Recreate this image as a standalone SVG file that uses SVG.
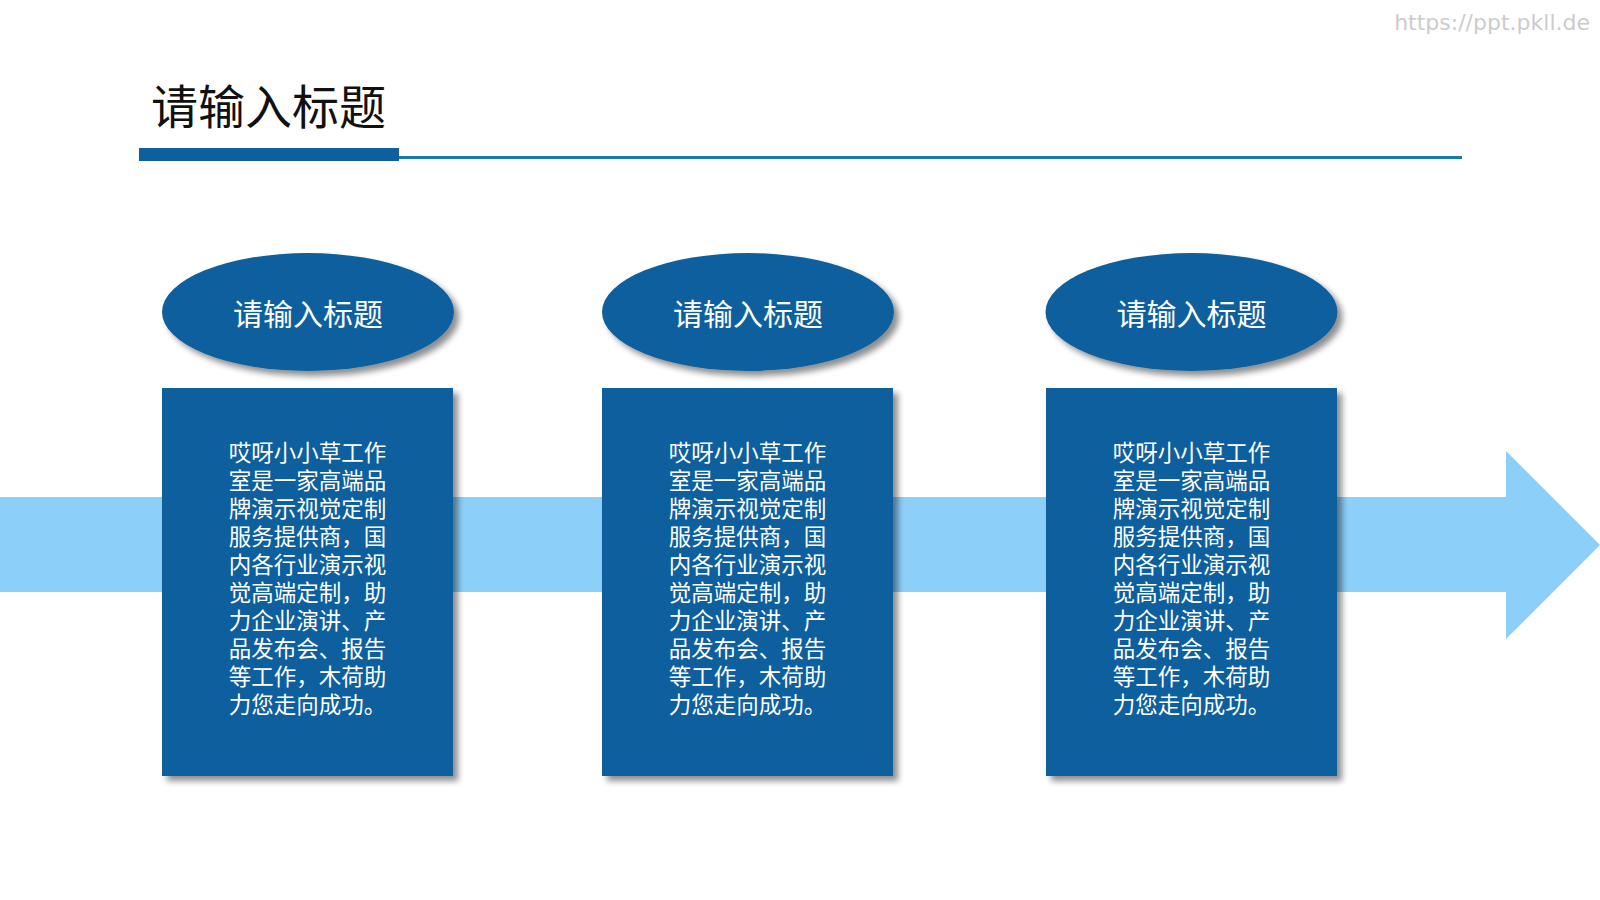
<svg xmlns="http://www.w3.org/2000/svg" width="1600" height="900" viewBox="0 0 1600 900">
<defs>
<filter id="sh" x="-10%" y="-10%" width="125%" height="125%">
<feGaussianBlur in="SourceAlpha" stdDeviation="3"/>
<feOffset dx="5" dy="5" result="b"/>
<feComponentTransfer><feFuncA type="linear" slope="0.45"/></feComponentTransfer>
<feMerge><feMergeNode/><feMergeNode in="SourceGraphic"/></feMerge>
</filter>
<style>
.dk{fill:#0b609d}
.t{font-family:"Noto Sans CJK SC","Noto Sans",sans-serif;fill:#ffffff;text-anchor:middle}
.h{font-size:30px}
.b{font-size:22.5px}
</style>
</defs>
<rect width="1600" height="900" fill="#ffffff"/>
<text x="1590" y="30" font-family="'DejaVu Sans','Liberation Sans',sans-serif" font-size="22" fill="#cccccc" text-anchor="end">https://ppt.pkll.de</text>
<g id="title">
<text x="151" y="124" font-family="'Noto Sans CJK SC',sans-serif" font-size="47" fill="#111111">请输入标题</text>
<rect x="139" y="148" width="260" height="13" class="dk"/>
<rect x="399" y="156" width="1063" height="3" fill="#1878ab"/>
</g>
<g id="connectors">
<polygon points="0,497 1506,497 1506,451 1600,545 1506,639 1506,592 0,592" fill="#8ccff9"/>
</g>
<g id="node1">
<ellipse cx="308" cy="312" rx="146" ry="59" class="dk" filter="url(#sh)"/>
<text x="308" y="325" class="t h">请输入标题</text>
<rect x="162" y="388" width="291" height="388" class="dk" filter="url(#sh)"/>
<text class="t b"><tspan x="307.5" y="461">哎呀小小草工作</tspan><tspan x="307.5" y="489">室是一家高端品</tspan><tspan x="307.5" y="517">牌演示视觉定制</tspan><tspan x="307.5" y="545">服务提供商，国</tspan><tspan x="307.5" y="573">内各行业演示视</tspan><tspan x="307.5" y="601">觉高端定制，助</tspan><tspan x="307.5" y="629">力企业演讲、产</tspan><tspan x="307.5" y="657">品发布会、报告</tspan><tspan x="307.5" y="685">等工作，木荷助</tspan><tspan x="307.5" y="713">力您走向成功。</tspan></text>
</g>
<g id="node2">
<ellipse cx="748" cy="312" rx="146" ry="59" class="dk" filter="url(#sh)"/>
<text x="748" y="325" class="t h">请输入标题</text>
<rect x="602" y="388" width="291" height="388" class="dk" filter="url(#sh)"/>
<text class="t b"><tspan x="747.5" y="461">哎呀小小草工作</tspan><tspan x="747.5" y="489">室是一家高端品</tspan><tspan x="747.5" y="517">牌演示视觉定制</tspan><tspan x="747.5" y="545">服务提供商，国</tspan><tspan x="747.5" y="573">内各行业演示视</tspan><tspan x="747.5" y="601">觉高端定制，助</tspan><tspan x="747.5" y="629">力企业演讲、产</tspan><tspan x="747.5" y="657">品发布会、报告</tspan><tspan x="747.5" y="685">等工作，木荷助</tspan><tspan x="747.5" y="713">力您走向成功。</tspan></text>
</g>
<g id="node3">
<ellipse cx="1191.5" cy="312" rx="146" ry="59" class="dk" filter="url(#sh)"/>
<text x="1191.5" y="325" class="t h">请输入标题</text>
<rect x="1046" y="388" width="291" height="388" class="dk" filter="url(#sh)"/>
<text class="t b"><tspan x="1191.5" y="461">哎呀小小草工作</tspan><tspan x="1191.5" y="489">室是一家高端品</tspan><tspan x="1191.5" y="517">牌演示视觉定制</tspan><tspan x="1191.5" y="545">服务提供商，国</tspan><tspan x="1191.5" y="573">内各行业演示视</tspan><tspan x="1191.5" y="601">觉高端定制，助</tspan><tspan x="1191.5" y="629">力企业演讲、产</tspan><tspan x="1191.5" y="657">品发布会、报告</tspan><tspan x="1191.5" y="685">等工作，木荷助</tspan><tspan x="1191.5" y="713">力您走向成功。</tspan></text>
</g>
</svg>
